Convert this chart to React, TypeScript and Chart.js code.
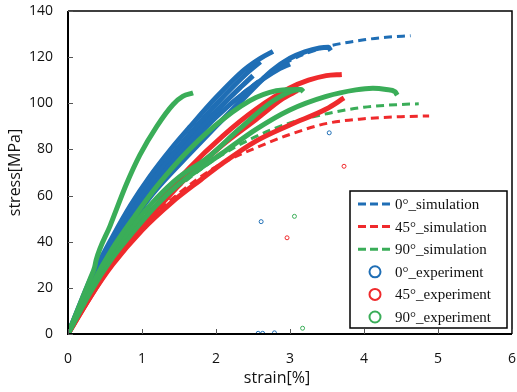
import React, { useEffect, useRef } from 'react';
import { Chart, registerables } from 'chart.js';

Chart.register(...registerables);

// ---------- data ----------
const xTicks = [0, 1, 2, 3, 4, 5, 6];
const yTicks = [0, 20, 40, 60, 80, 100, 120, 140];
const xTitle = 'strain[%]';
const yTitle = 'stress[MPa]';

const legendLabels = [
  '0°_simulation',
  '45°_simulation',
  '90°_simulation',
  '0°_experiment',
  '45°_experiment',
  '90°_experiment',
];

// simulations [strain %, stress MPa]
const sim0: number[][] = [[0, 0], [0.25, 17], [0.5, 32], [0.75, 45], [1, 57], [1.5, 77], [2, 94], [2.5, 108], [3, 118.5], [3.5, 124.5], [4, 127.5], [4.3, 128.6], [4.63, 129.3]];
const sim45: number[][] = [[0, 0], [0.25, 14], [0.5, 27], [0.75, 38], [1, 47], [1.5, 61], [2, 72.5], [2.54, 80.7], [3, 86.5], [3.5, 91.3], [4, 93.3], [4.5, 94.2], [4.88, 94.5]];
const sim90: number[][] = [[0, 0], [0.25, 15], [0.5, 28], [0.75, 40], [1, 50], [1.5, 64], [2, 76], [2.5, 85], [3, 91.5], [3.5, 95.5], [4, 98.3], [4.5, 99.5], [4.74, 99.8]];

// experiments: 0°
const exp0a: number[][] = [[0, 0], [0.3, 23.5], [0.6, 42], [0.85, 56], [1.1, 68], [1.4, 80.5], [1.64, 89.5], [2.0, 102.5], [2.38, 114.5], [2.6, 119.5], [2.77, 122.5]];
const exp0b: number[][] = [[0, 0], [0.3, 22.5], [0.6, 40.5], [0.85, 54], [1.1, 65.5], [1.4, 77.5], [1.64, 86.5], [2.0, 99.5], [2.45, 114], [2.6, 118]];
const exp0e: number[][] = [[0, 0], [0.3, 22], [0.6, 39.5], [0.85, 52.5], [1.1, 63.5], [1.4, 75.5], [1.64, 84], [2.0, 96.5], [2.35, 107.5], [2.5, 112]];
const exp0c: number[][] = [[0, 0], [0.3, 21], [0.6, 38], [0.85, 51], [1.1, 62], [1.4, 73.5], [1.64, 82], [2.0, 94], [2.4, 105], [2.86, 115], [3.0, 117]];
const exp0d: number[][] = [[0, 0], [0.3, 20], [0.6, 36], [0.85, 48], [1.1, 59], [1.3, 66.5], [1.64, 78], [2.0, 90], [2.4, 103], [2.75, 114], [3.0, 119.5], [3.2, 122.3], [3.4, 124], [3.52, 124.3], [3.55, 122.8]];
const exp0pts: number[][] = [[3.53, 87.2], [2.61, 48.7], [2.57, 0.3], [2.63, 0.3], [2.79, 0.5]];

// experiments: 45°
const exp45a: number[][] = [[0, 0], [0.3, 17], [0.6, 32], [0.9, 45], [1.2, 56], [1.64, 72], [2.09, 85.8], [2.54, 97.4], [2.99, 106.5], [3.25, 110], [3.49, 112], [3.7, 112.5]];
const exp45b: number[][] = [[0, 0], [0.3, 16], [0.6, 31], [0.9, 43], [1.2, 54], [1.64, 69], [2.09, 82], [2.54, 93], [2.9, 102], [3.1, 105.5]];
const exp45c: number[][] = [[0, 0], [0.3, 16], [0.6, 30], [1.0, 45], [1.4, 57], [1.8, 67], [2.09, 74], [2.54, 83.6], [2.99, 90.5], [3.49, 97.5], [3.73, 102.3]];
const exp45pts: number[][] = [[3.73, 72.7], [2.96, 41.7]];

// experiments: 90°
const exp90a: number[][] = [[0, 0], [0.15, 12], [0.3, 24], [0.36, 29], [0.38, 32], [0.57, 47], [0.79, 65], [0.97, 77.5], [1.2, 90], [1.42, 99.5], [1.55, 103], [1.69, 104.5]];
const exp90b: number[][] = [[0, 0], [0.3, 20], [0.6, 37], [0.9, 51], [1.2, 64], [1.64, 80], [2.09, 93], [2.54, 102.5], [2.9, 105.8], [3.15, 106], [3.18, 105]];
const exp90c: number[][] = [[0, 0], [0.3, 19], [0.6, 35], [0.9, 48], [1.2, 59], [1.5, 68], [1.87, 76], [2.32, 89], [2.77, 101], [3.08, 105.8], [3.15, 106]];
const exp90d: number[][] = [[0, 0], [0.3, 18], [0.6, 33], [0.9, 45], [1.2, 56], [1.5, 65], [2.09, 78.5], [2.54, 88.7], [2.99, 97], [3.49, 103], [3.89, 105.8], [4.12, 106.5], [4.3, 106], [4.42, 105], [4.45, 103.5]];
const exp90pts: number[][] = [[3.06, 51], [3.17, 2.5]];

// ---------- styles ----------
const BLUE = '#1f6eb5';
const RED = '#ef2a2c';
const GREEN = '#3aad58';
const legendColors = [BLUE, RED, GREEN, BLUE, RED, GREEN];
const SANS = "'Open Sans', 'Noto Sans', sans-serif";

const toXY = (arr: number[][]) => arr.map(([x, y]) => ({ x, y }));

const lineSet = (arr: number[][], color: string, order: number) => ({
  data: toXY(arr),
  showLine: true,
  borderColor: color,
  backgroundColor: color,
  borderWidth: 5,
  pointRadius: 0,
  cubicInterpolationMode: 'monotone' as const,
  order,
});

const dashSet = (arr: number[][], color: string, order: number) => ({
  data: toXY(arr),
  showLine: true,
  borderColor: color,
  backgroundColor: color,
  borderWidth: 3,
  borderDash: [8, 5],
  pointRadius: 0,
  cubicInterpolationMode: 'monotone' as const,
  order,
});

const ptSet = (arr: number[][], color: string) => ({
  data: toXY(arr),
  showLine: false,
  borderColor: color,
  backgroundColor: 'rgba(0,0,0,0)',
  borderWidth: 1,
  pointRadius: 2,
  order: 0,
});

const framePlugin = {
  id: 'frameTicks',
  afterDraw(chart: any) {
    const { ctx, chartArea: a, scales } = chart;
    ctx.save();
    ctx.strokeStyle = '#000';
    ctx.lineWidth = 1.5;
    ctx.beginPath();
    ctx.moveTo(a.left, a.top);
    ctx.lineTo(a.right, a.top);
    ctx.lineTo(a.right, a.bottom);
    ctx.stroke();
    ctx.lineWidth = 2;
    ctx.beginPath();
    ctx.moveTo(a.left, a.top);
    ctx.lineTo(a.left, a.bottom);
    ctx.lineTo(a.right, a.bottom);
    ctx.stroke();
    ctx.strokeStyle = '#555';
    ctx.lineWidth = 1;
    ctx.beginPath();
    xTicks.forEach((t) => {
      const px = Math.round(scales.x.getPixelForValue(t)) + 0.5;
      ctx.moveTo(px, a.bottom);
      ctx.lineTo(px, a.bottom - 5);
    });
    yTicks.forEach((t) => {
      const py = Math.round(scales.y.getPixelForValue(t)) + 0.5;
      ctx.moveTo(a.left, py);
      ctx.lineTo(a.left + 5, py);
    });
    ctx.stroke();
    // x-axis title (slightly left of centre, as in the source)
    ctx.fillStyle = '#111';
    ctx.font = `16px ${SANS}`;
    ctx.textAlign = 'center';
    ctx.textBaseline = 'middle';
    ctx.fillText(xTitle, (a.left + a.right) / 2 - 13, 378);
    ctx.restore();
  },
};

const legendPlugin = {
  id: 'boxLegend',
  afterDraw(chart: any) {
    const ctx = chart.ctx;
    ctx.save();
    const bx = 350, by = 191, bw = 157, bh = 137;
    ctx.fillStyle = '#fff';
    ctx.fillRect(bx, by, bw, bh);
    ctx.strokeStyle = '#000';
    ctx.lineWidth = 1.5;
    ctx.strokeRect(bx, by, bw, bh);
    ctx.font = "15px 'Liberation Serif', 'DejaVu Serif', serif";
    ctx.textBaseline = 'middle';
    ctx.textAlign = 'left';
    legendLabels.forEach((label, i) => {
      const y = 204 + i * 22.6;
      const c = legendColors[i];
      if (i < 3) {
        ctx.strokeStyle = c;
        ctx.lineWidth = 3;
        ctx.setLineDash([8, 4]);
        ctx.beginPath();
        ctx.moveTo(358, y);
        ctx.lineTo(392, y);
        ctx.stroke();
        ctx.setLineDash([]);
      } else {
        ctx.strokeStyle = c;
        ctx.lineWidth = 2;
        ctx.beginPath();
        ctx.arc(375, y, 5.5, 0, Math.PI * 2);
        ctx.stroke();
      }
      ctx.fillStyle = '#111';
      ctx.fillText(label, 395, y + 1);
    });
    ctx.restore();
  },
};

export default function App() {
  const ref = useRef<HTMLCanvasElement | null>(null);

  useEffect(() => {
    document.body.style.margin = '0';
    if (!ref.current) return;
    const tickFont = { family: SANS, size: 14 };
    const chart = new Chart(ref.current, {
      type: 'scatter',
      data: {
        datasets: [
          ptSet(exp0pts, BLUE),
          ptSet(exp45pts, RED),
          ptSet(exp90pts, GREEN),
          lineSet(exp90a, GREEN, 1),
          lineSet(exp90b, GREEN, 1),
          lineSet(exp90c, GREEN, 1),
          lineSet(exp90d, GREEN, 1),
          lineSet(exp45a, RED, 2),
          lineSet(exp45b, RED, 2),
          lineSet(exp45c, RED, 2),
          lineSet(exp0a, BLUE, 3),
          lineSet(exp0b, BLUE, 3),
          lineSet(exp0e, BLUE, 3),
          lineSet(exp0c, BLUE, 3),
          lineSet(exp0d, BLUE, 3),
          dashSet(sim0, BLUE, 4),
          dashSet(sim45, RED, 4),
          dashSet(sim90, GREEN, 4),
        ] as any,
      },
      options: {
        responsive: false,
        animation: false,
        layout: { padding: { top: 11, right: 4, left: 0, bottom: 0 } },
        plugins: { legend: { display: false }, tooltip: { enabled: false } },
        scales: {
          x: {
            type: 'linear',
            min: 0,
            max: 6,
            afterBuildTicks: (s: any) => { s.ticks = xTicks.map((v) => ({ value: v })); },
            afterFit: (s: any) => { s.height = 58; s.paddingLeft = 0; s.paddingRight = 0; },
            grid: { display: false, drawTicks: false },
            border: { display: false },
            ticks: { font: tickFont, color: '#111', padding: 17, maxRotation: 0 },
            title: { display: false, text: xTitle },
          },
          y: {
            type: 'linear',
            min: 0,
            max: 140,
            afterBuildTicks: (s: any) => { s.ticks = yTicks.map((v) => ({ value: v })); },
            afterFit: (s: any) => { s.width = 68; s.paddingTop = 0; s.paddingBottom = 0; },
            grid: { display: false, drawTicks: false },
            border: { display: false },
            ticks: { font: tickFont, color: '#111', padding: 15 },
            title: {
              display: true,
              text: yTitle,
              font: { family: SANS, size: 16 },
              color: '#111',
              padding: { top: 6, bottom: 0 },
            },
          },
        },
      },
      plugins: [framePlugin, legendPlugin],
    });
    return () => chart.destroy();
  }, []);

  return (
    <div style={{ width: 517, height: 392 }}>
      <canvas ref={ref} width={517} height={392} style={{ display: 'block' }} />
    </div>
  );
}
